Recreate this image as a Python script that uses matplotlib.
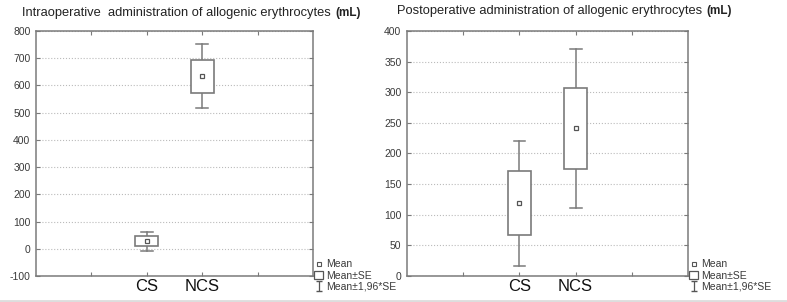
import numpy as np
import matplotlib
matplotlib.use('Agg')
import matplotlib.pyplot as plt
from matplotlib.patches import Rectangle
from matplotlib.lines import Line2D

plt.rcParams['font.family'] = ['Liberation Sans', 'DejaVu Sans']
plt.rcParams['axes.unicode_minus'] = False

# data
groups = ['CS', 'NCS']
intra_mean = [28, 634]
intra_se = [18, 60]
intra_ci = [35, 118]      # 1,96*SE
post_mean = [119, 241]
post_se = [52, 66]
post_ci = [102, 130]

titles = ['Intraoperative  administration of allogenic erythrocytes',
          'Postoperative administration of allogenic erythrocytes']
ylims = [(-100, 800), (0, 400)]
yticks = [np.arange(-100, 801, 100), np.arange(0, 401, 50)]

edge = '#7a7a7a'
txt = '#3a3a3a'

fig = plt.figure(figsize=(7.87, 3.02), dpi=100)
axes = [fig.add_axes([0.0457, 0.0861, 0.352, 0.8113]),
        fig.add_axes([0.5172, 0.0861, 0.357, 0.8113])]

data = [(intra_mean, intra_se, intra_ci), (post_mean, post_se, post_ci)]

for ax, (mean, se, ci), yl, yt in zip(axes, data, ylims, yticks):
    pos = np.arange(len(groups)) + 2
    bw = 0.41
    for x, m, s, c in zip(pos, mean, se, ci):
        ax.add_patch(Rectangle((x - bw / 2, m - s), bw, 2 * s, fc='white',
                               ec=edge, lw=1.2, zorder=3))
        # whiskers
        ax.plot([x, x], [m + s, m + c], color=edge, lw=1.1, zorder=2)
        ax.plot([x, x], [m - s, m - c], color=edge, lw=1.1, zorder=2)
        ax.plot([x - 0.105, x + 0.105], [m + c, m + c], color=edge, lw=1.1, zorder=2)
        ax.plot([x - 0.105, x + 0.105], [m - c, m - c], color=edge, lw=1.1, zorder=2)
    ax.plot(pos, mean, ls='none', marker='s', ms=3.2, mfc='white', mec='#555555',
            mew=0.9, zorder=4)

    ax.set_xlim(0, 5)
    ax.set_ylim(*yl)
    ax.set_yticks(yt)
    ax.set_xticks([1, 2, 3, 4])
    ax.set_xticklabels(['', 'CS', 'NCS', ''], fontsize=12, color='#111111')
    ax.tick_params(axis='y', labelsize=7.5, labelcolor=txt, direction='in',
                   right=True, length=3, color=edge, pad=4)
    ax.tick_params(axis='x', direction='in', top=True, length=3, color=edge, pad=2)
    ax.grid(axis='y', ls=':', color='#bbbbbb', lw=0.8)
    for sp in ax.spines.values():
        sp.set_color(edge)
        sp.set_linewidth(1.1)

    # legend
    h_mean = Line2D([], [], ls='none', marker='s', ms=3.2, mfc='white', mec='#555555', mew=0.8)
    h_se = Rectangle((0, 0), 1, 1, fc='white', ec='#555555', lw=0.9)
    eb = ax.errorbar([np.nan], [np.nan], yerr=1, fmt='none', ecolor='#555555',
                     capsize=2, elinewidth=0.9)
    ax.legend([h_mean, h_se, eb], ['Mean', 'Mean±SE', 'Mean±1,96*SE'],
              loc='lower left', bbox_to_anchor=(1.005, -0.065), frameon=False,
              fontsize=7.5, handlelength=0.8, handletextpad=0.3, labelspacing=0.12,
              borderaxespad=0, borderpad=0, labelcolor=txt)

fig.canvas.draw()
renderer = fig.canvas.get_renderer()
inv = fig.transFigure.inverted()
for (x0, y0), ttl in zip([(0.028, 0.958), (0.504, 0.962)], titles):
    t = fig.text(x0, y0, ttl, fontsize=9.3, color='#222222', va='center', ha='left')
    bb = t.get_window_extent(renderer)
    xe = inv.transform((bb.x1, bb.y0))[0]
    fig.text(xe + 0.006, y0, '(mL)', fontsize=8.5, weight='bold', color='#222222',
             va='center', ha='left')

fig.add_artist(Line2D([0, 1], [0.004, 0.004], color='#dddddd', lw=2))

fig.savefig('out.png', dpi=100, facecolor='white')
